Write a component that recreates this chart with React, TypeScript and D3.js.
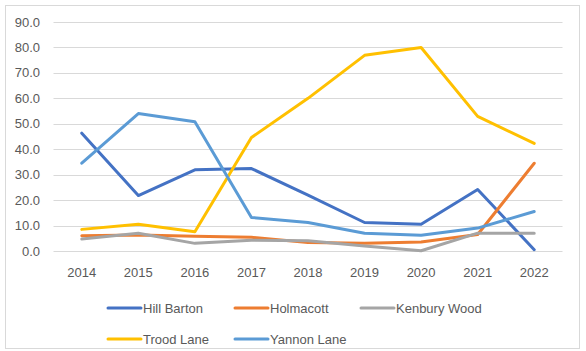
import { scaleLinear, scaleBand, line as d3line } from "d3";

const YEARS = ["2014", "2015", "2016", "2017", "2018", "2019", "2020", "2021", "2022"];
const HILL_BARTON = [46.3, 21.8, 31.9, 32.4, 22.0, 11.2, 10.5, 24.2, 0.5];
const HOLMACOTT = [6.0, 6.3, 5.8, 5.4, 3.3, 3.0, 3.5, 6.5, 34.5];
const KENBURY_WOOD = [4.7, 7.0, 3.0, 4.2, 4.0, 2.0, 0.1, 7.0, 7.0];
const TROOD_LANE = [8.5, 10.5, 7.6, 44.6, 60.0, 76.9, 80.0, 52.9, 42.3];
const YANNON_LANE = [34.5, 54.0, 50.8, 13.2, 11.2, 7.0, 6.2, 9.0, 15.5];
const Y_TICKS = [0, 10, 20, 30, 40, 50, 60, 70, 80, 90];

const SERIES = [
  { name: "Hill Barton", values: HILL_BARTON, color: "#4472C4" },
  { name: "Holmacott", values: HOLMACOTT, color: "#ED7D31" },
  { name: "Kenbury Wood", values: KENBURY_WOOD, color: "#A5A5A5" },
  { name: "Trood Lane", values: TROOD_LANE, color: "#FFC000" },
  { name: "Yannon Lane", values: YANNON_LANE, color: "#5B9BD5" },
];

const W = 586, H = 351;
const P = { left: 53.5, right: 562.5, top: 22, bottom: 251 };
const FONT = "'Liberation Sans', Arial, sans-serif";

export default function App() {
  const x = scaleBand().domain(YEARS).range([P.left, P.right]);
  const y = scaleLinear().domain([0, 90]).range([P.bottom, P.top]);
  const mk = d3line<number>().x((_, i) => (x(YEARS[i]) ?? 0) + x.bandwidth() / 2).y(d => y(d));
  const legendPos = [
    { x: 108, y: 308 }, { x: 235, y: 308 }, { x: 361, y: 308 },
    { x: 108, y: 339 }, { x: 235, y: 339 },
  ];
  return (
    <svg width={W} height={H} style={{ position: "absolute", left: 0, top: 0 }} fontFamily={FONT}>
      <rect x={0} y={0} width={W} height={H} fill="#fff" />
      <rect x={5.5} y={5.5} width={574} height={343} fill="#fff" stroke="#D9D9D9" />
      {Y_TICKS.map(t => (
        <g key={t}>
          <line x1={P.left} x2={P.right} y1={Math.round(y(t)) + 0.5} y2={Math.round(y(t)) + 0.5} stroke="#D9D9D9" />
          <text x={40} y={y(t)} textAnchor="end" dominantBaseline="central" fontSize={13} fill="#595959">{t.toFixed(1)}</text>
        </g>
      ))}
      {YEARS.map(yr => (
        <text key={yr} x={(x(yr) ?? 0) + x.bandwidth() / 2} y={272} textAnchor="middle" dominantBaseline="central" fontSize={13} fill="#595959">{yr}</text>
      ))}
      {SERIES.map(s => (
        <path key={s.name} d={mk(s.values) ?? ""} fill="none" stroke={s.color} strokeWidth={3} strokeLinejoin="round" strokeLinecap="round" />
      ))}
      {SERIES.map((s, i) => (
        <g key={s.name} transform={`translate(${legendPos[i].x},${legendPos[i].y})`}>
          <line x1={0} x2={33} y1={0} y2={0} stroke={s.color} strokeWidth={3} strokeLinecap="round" />
          <text x={35} y={0} dominantBaseline="central" fontSize={13} fill="#595959">{s.name}</text>
        </g>
      ))}
    </svg>
  );
}
